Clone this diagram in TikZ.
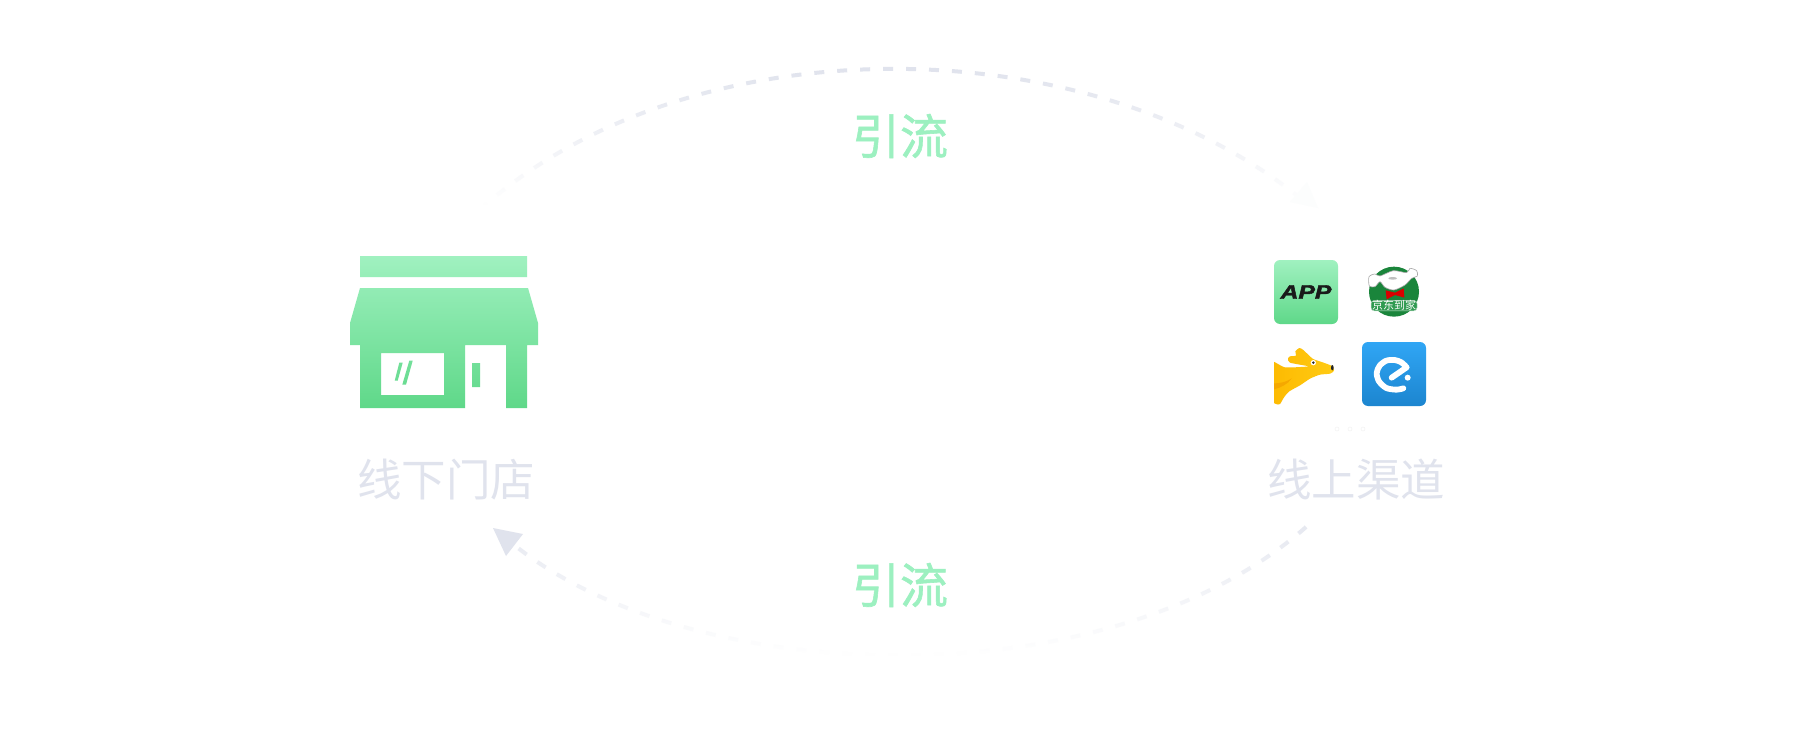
\documentclass[tikz,border=0pt]{standalone}
\usepackage{fontspec}
\setmainfont{Noto Sans CJK SC}
\newfontfamily\flowfont[FakeBold=1.2]{Noto Sans CJK SC}
\newfontfamily\appfont[BoldItalicFeatures={FakeBold=2}]{Liberation Sans}
\usetikzlibrary{fadings}
\definecolor{arcgray}{HTML}{E0E3ED}
\definecolor{flowgreen}{HTML}{9CF0C0}
\definecolor{topgreen}{HTML}{A0F1C0}
\definecolor{lowgreen}{HTML}{5FD889}
\definecolor{jdgreen}{HTML}{1A853B}
\definecolor{jdband}{HTML}{2F9A50}
\definecolor{roogold}{HTML}{FFCB14}
\definecolor{rooamber}{HTML}{FDB900}
\definecolor{roodeep}{HTML}{F5A800}
\definecolor{eleblue}{HTML}{30A6F5}
\definecolor{eledeep}{HTML}{1C85CF}
\pgfdeclareverticalshading{topmask}{100bp}{color(0bp)=(pgftransparent!100); color(27bp)=(pgftransparent!100); color(63bp)=(pgftransparent!0); color(100bp)=(pgftransparent!0)}
\pgfdeclareverticalshading{lowmask}{100bp}{color(0bp)=(pgftransparent!100); color(38bp)=(pgftransparent!100); color(75bp)=(pgftransparent!20); color(100bp)=(pgftransparent!20)}
\tikzfading[name=fadetop,shading=topmask]
\tikzfading[name=fadelow,shading=lowmask]
\tikzset{
	flowarc/.style={arcgray,line width=4pt,dash pattern=on 10pt off 13pt},
	placelabel/.style={text=arcgray,font=\fontsize{44.5}{44.5}\selectfont,inner sep=0pt},
	flowlabel/.style={text=flowgreen,font=\flowfont\fontsize{48}{48}\selectfont,inner sep=0pt},
	appbox/.style={minimum size=64pt,inner sep=0pt,rounded corners=6pt}
}
\begin{document}
\begin{tikzpicture}[x=1pt,y=-1pt]
		\useasboundingbox (0,0) rectangle (1800,736);
		\fill[white] (0,0) rectangle (1800,736);
		\coordinate (topstart) at (480,210);
		\coordinate (topend) at (1304,200);
		\coordinate (lowstart) at (1307,527);
		\coordinate (lowend) at (517,547);
		\draw[flowarc,path fading=fadetop] (topstart) .. controls (690,22) and (1090,25) .. (topend);
		\draw[flowarc,path fading=fadelow] (lowstart) .. controls (1110,700) and (700,690) .. (lowend);
		\fill[arcgray!8] (1307,182) -- (1290,202) -- (1318,208) -- cycle;
		\fill[arcgray] (493,528) -- (523,534) -- (506,556) -- cycle;
		\node[flowlabel] (flowtop) at (900,136) {引流};
		\node[flowlabel] (flowlow) at (900,585) {引流};
		\node[placelabel] (storelabel) at (446,480) {线下门店};
		\node[placelabel] (onlinelabel) at (1356,480) {线上渠道};
		\shade[top color=topgreen,bottom color=lowgreen,even odd rule]
			(360,256) rectangle (527,277)
			(360,288) -- (528,288) -- (538,323) -- (538,345) -- (527,345) -- (527,408) -- (506,408) -- (506,345) -- (465,345) -- (465,408) -- (360,408) -- (360,345) -- (350,345) -- (350,323) -- cycle
			(381,353) rectangle (444,395)
			(399.3,362.7) -- (402.7,362.7) -- (397.7,380.7) -- (394.7,380.7) -- cycle
			(409.3,360.7) -- (412.7,360.7) -- (406,384.7) -- (402.3,384.7) -- cycle
			(472,363) rectangle (480,387);
		\node[appbox,top color=topgreen,bottom color=lowgreen] (appicon) at (1306,292) {};
		\node[text=black!90,font=\appfont\bfseries\itshape\fontsize{19.5}{19.5}\selectfont,xscale=1.27,inner sep=0pt] (apptext) at (appicon.center) {APP};
		\node[appbox,top color=eleblue,bottom color=eledeep] (eleicon) at (1394,374) {};
		\begin{scope}[shift={(1358,338)},scale=1/3]
			\draw[white,line width=5.8pt,line cap=round,line join=round] plot[smooth] coordinates {(136,151) (115,155) (85,150) (63,130) (56,105) (65,83) (85,68) (110,66) (130,73) (146,88)} -- (101,119);
			\fill[white] (149,119) circle (9);
		\end{scope}
		\begin{scope}[shift={(1355,255)},scale=1/3]
			\fill[jdgreen] (117,110) circle (75);
			\filldraw[fill=white,draw=black!35,line width=0.6pt] plot[smooth cycle,tension=0.45] coordinates {(42,65) (60,57) (75,63) (115,47) (155,53) (165,40) (185,47) (187,63) (170,70) (150,90) (117,105) (90,97) (75,80) (60,95) (43,93)};
			\fill[black!25] (113,70) ellipse (13 and 4);
			\fill[red!85!black] (92,106) -- (120,113) -- (146,100) -- (148,128) -- (120,120) -- (95,133) -- cycle;
			\node[fill=jdband,draw=white!75!jdgreen,line width=0.5pt,rounded corners=3pt,text=white,font=\fontsize{11}{11}\selectfont,inner xsep=1pt,inner ysep=0pt] (jdname) at (117,152) {京东到家};
		\end{scope}
		\begin{scope}[shift={(1270,338)},scale=1/3]
			\clip (12,12) rectangle (203,203);
			\shade[left color=rooamber,right color=roogold] plot[smooth cycle,tension=0.4] coordinates {(0,72) (45,88) (108,86) (112,84) (60,74) (54,62) (60,55) (78,53) (76,40) (88,30) (100,36) (128,62) (155,72) (186,84) (192,98) (180,107) (150,110) (120,122) (90,142) (58,160) (42,178) (30,198) (18,198) (0,180)};
			\fill[roodeep] (12,136) .. controls (35,136) and (52,130) .. (65,121) .. controls (55,138) and (30,150) .. (12,154) -- cycle;
			\fill[white] (130,74) circle (8);
			\fill[black!85] (130,74) circle (4);
			\fill[black!85] (187,89) ellipse (4 and 8);
		\end{scope}
		\foreach \dotx in {1337,1350,1363}
			\draw[black!5,line width=0.5pt] (\dotx,429) circle (2);
	\end{tikzpicture}
\end{document}
